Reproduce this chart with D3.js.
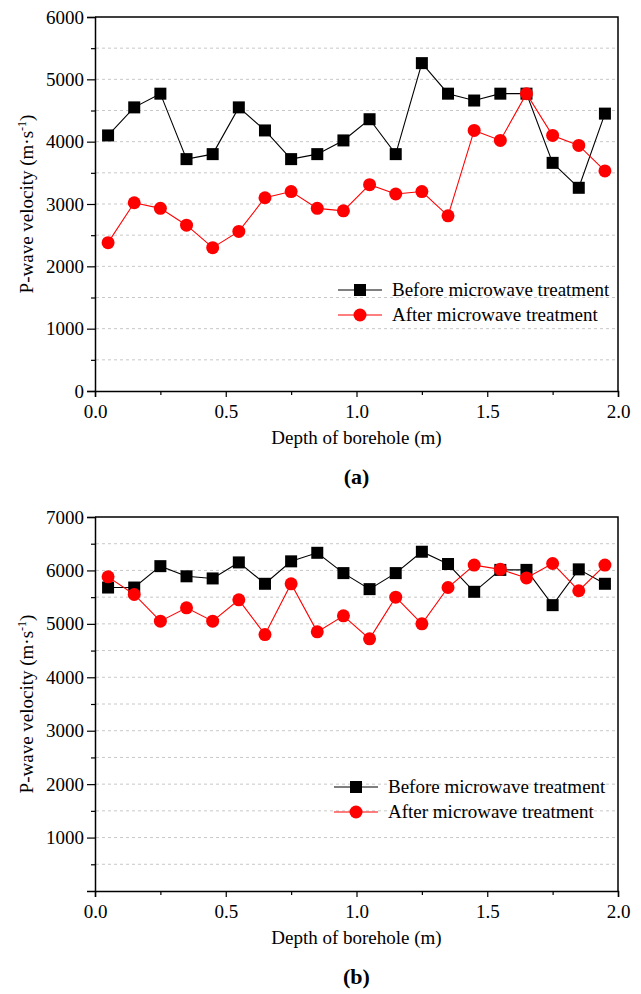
<!DOCTYPE html>
<html>
<head>
<meta charset="utf-8">
<script src="https://cdn.jsdelivr.net/npm/d3@7"></script>
<style>
  body { margin: 0; background: #fff; }
  svg text { font-family: "Liberation Serif", Tinos, "Times New Roman", Times, "Nimbus Roman", "DejaVu Serif", serif !important; fill: #000; }
</style>
</head>
<body>
<div id="chart"></div>
<script>
// depth positions (m)
const depth = [0.05, 0.15, 0.25, 0.35, 0.45, 0.55, 0.65, 0.75, 0.85, 0.95,
               1.05, 1.15, 1.25, 1.35, 1.45, 1.55, 1.65, 1.75, 1.85, 1.95];

// (a) P-wave velocity
const beforeA = [4100, 4550, 4770, 3720, 3800, 4550, 4180, 3720, 3800, 4020,
                 4360, 3800, 5260, 4770, 4660, 4770, 4770, 3660, 3260, 4450];
const afterA  = [2380, 3020, 2930, 2660, 2300, 2560, 3100, 3200, 2930, 2890,
                 3310, 3160, 3200, 2810, 4180, 4020, 4770, 4100, 3940, 3530];

// (b) P-wave velocity
const beforeB = [5680, 5680, 6080, 5890, 5850, 6150, 5750, 6170, 6330, 5950,
                 5650, 5950, 6350, 6120, 5600, 6010, 6010, 5350, 6020, 5750];
const afterB  = [5880, 5550, 5050, 5300, 5050, 5450, 4800, 5750, 4850, 5150,
                 4720, 5500, 5000, 5680, 6100, 6020, 5860, 6130, 5620, 6100];

const seriesNames = ["Before microwave treatment", "After microwave treatment"];
const xTicks = [0, 0.5, 1.0, 1.5, 2.0];
const yTicksA = [0, 1000, 2000, 3000, 4000, 5000, 6000];
const yTicksB = [1000, 2000, 3000, 4000, 5000, 6000, 7000];

const svg = d3.select("#chart").append("svg")
    .attr("width", 641)
    .attr("height", 994);

function drawPanel(cfg) {
  const left = 95, right = 618;
  const x = d3.scaleLinear().domain([0, 2]).range([left, right]);
  const y = d3.scaleLinear().domain([0, cfg.yMax]).range([cfg.bottom, cfg.top]);
  const g = svg.append("g");

  // dashed grid every 500
  const grid = d3.range(500, cfg.yMax, 500);
  g.selectAll(".grid").data(grid).enter().append("line")
      .attr("x1", left + 1).attr("x2", right - 1)
      .attr("y1", d => y(d)).attr("y2", d => y(d))
      .attr("stroke", "#c8c8c8")
      .attr("stroke-width", 1)
      .attr("stroke-dasharray", "3,3");

  // frame (top + right)
  g.append("path")
      .attr("d", `M${left},${cfg.top}H${right}V${cfg.bottom}`)
      .attr("fill", "none").attr("stroke", "#000").attr("stroke-width", 1.5);

  // y axis
  const yAxis = d3.axisLeft(y).tickValues(cfg.yTicks).tickSize(8).tickPadding(3)
      .tickFormat(d3.format("d"));
  g.append("g").attr("transform", `translate(${left},0)`).call(yAxis);
  const yMinor = d3.axisLeft(y).tickValues(grid.filter(d => d % 1000 !== 0))
      .tickSize(4).tickFormat("");
  g.append("g").attr("transform", `translate(${left},0)`).call(yMinor)
      .select(".domain").remove();

  // x axis
  const xAxis = d3.axisBottom(x).tickValues(xTicks).tickSize(6).tickPadding(8)
      .tickFormat(d3.format(".1f"));
  g.append("g").attr("transform", `translate(0,${cfg.bottom})`).call(xAxis);
  const xMinor = d3.axisBottom(x).tickValues([0.25, 0.75, 1.25, 1.75])
      .tickSize(4).tickFormat("");
  g.append("g").attr("transform", `translate(0,${cfg.bottom})`).call(xMinor)
      .select(".domain").remove();

  g.selectAll(".domain").attr("stroke-width", 1.5);
  g.selectAll(".tick line").attr("stroke-width", 1.2);
  g.selectAll(".tick text").style("font-size", "19px");

  // axis titles
  g.append("text")
      .attr("x", (left + right) / 2).attr("y", cfg.bottom + 53)
      .attr("text-anchor", "middle")
      .style("font-size", "19px")
      .text("Depth of borehole (m)");

  const yt = g.append("text")
      .attr("transform", `translate(33,${(cfg.top + cfg.bottom) / 2}) rotate(-90)`)
      .attr("text-anchor", "middle")
      .style("font-size", "19px");
  yt.append("tspan").text("P-wave velocity (m\u00B7s");
  yt.append("tspan").attr("dy", -7).style("font-size", "12px").text("-1");
  yt.append("tspan").attr("dy", 7).text(")");

  // panel label
  g.append("text")
      .attr("x", (left + right) / 2).attr("y", cfg.bottom + 93)
      .attr("text-anchor", "middle")
      .style("font-size", "22px").style("font-weight", "bold")
      .text(cfg.label);

  const line = d3.line().x((d, i) => x(depth[i])).y(d => y(d));

  // before: black squares
  g.append("path").datum(cfg.before)
      .attr("d", line).attr("fill", "none").attr("stroke", "#000").attr("stroke-width", 1.1);
  g.selectAll(".sq").data(cfg.before).enter().append("rect")
      .attr("x", (d, i) => x(depth[i]) - 6).attr("y", d => y(d) - 6)
      .attr("width", 12).attr("height", 12).attr("fill", "#000");

  // after: red circles
  g.append("path").datum(cfg.after)
      .attr("d", line).attr("fill", "none").attr("stroke", "#ff0000").attr("stroke-width", 1.1);
  g.selectAll(".ci").data(cfg.after).enter().append("circle")
      .attr("cx", (d, i) => x(depth[i])).attr("cy", d => y(d))
      .attr("r", 6.5).attr("fill", "#ff0000");

  // legend
  const lg = g.append("g").attr("transform", `translate(${cfg.legX},${cfg.legY})`);
  seriesNames.forEach((name, i) => {
    const col = i === 0 ? "#000" : "#ff0000";
    const row = lg.append("g").attr("transform", `translate(0,${i * 25})`);
    row.append("line").attr("x1", 0).attr("x2", 44).attr("stroke", col).attr("stroke-width", 1.1);
    if (i === 0) {
      row.append("rect").attr("x", 16).attr("y", -6).attr("width", 12).attr("height", 12).attr("fill", col);
    } else {
      row.append("circle").attr("cx", 22).attr("r", 6.5).attr("fill", col);
    }
    row.append("text").attr("x", 54).attr("y", 6)
        .style("font-size", "19px").text(name);
  });
}

drawPanel({ top: 17, bottom: 391, yMax: 6000, yTicks: yTicksA,
            before: beforeA, after: afterA, label: "(a)", legX: 338, legY: 290 });
drawPanel({ top: 517, bottom: 891, yMax: 7000, yTicks: yTicksB,
            before: beforeB, after: afterB, label: "(b)", legX: 334, legY: 787 });
</script>
</body>
</html>
